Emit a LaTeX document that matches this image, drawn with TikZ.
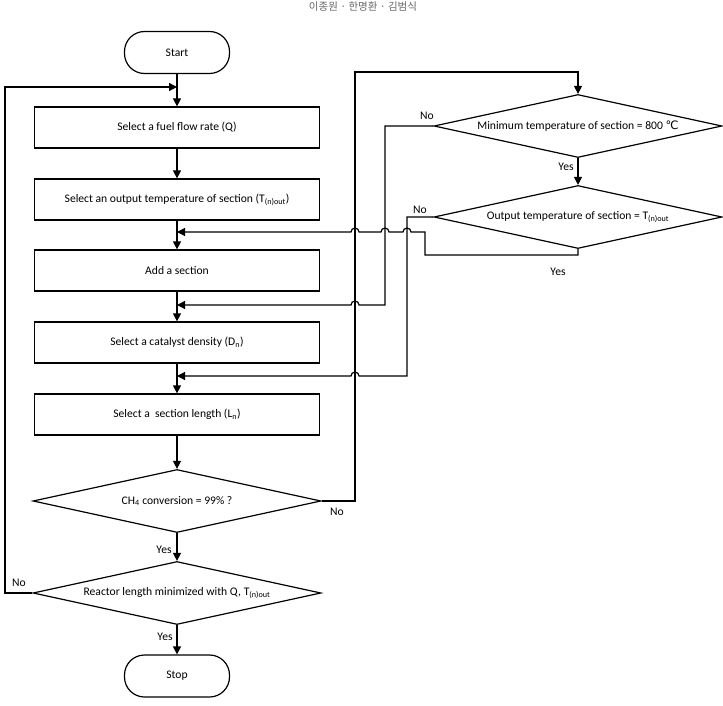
\documentclass[tikz,border=0pt]{standalone}
\usepackage{fontspec}
\setmainfont{Carlito}
\newfontfamily\krfont{Noto Sans CJK KR}
\newfontfamily\dvfont{DejaVu Sans}
\usetikzlibrary{shapes.geometric,arrows.meta}
\begin{document}
\begin{tikzpicture}[x=1pt,y=-1pt,
  line width=1.2pt,
  every node/.style={font=\fontsize{11.6}{13}\selectfont},
  box/.style={draw, rectangle, minimum width=285pt, minimum height=41pt, inner sep=0pt},
  term/.style={draw, rectangle, rounded corners=20pt, minimum width=105pt, minimum height=42pt, inner sep=0pt},
  dec/.style={draw, diamond, aspect=4.4, minimum width=288pt, minimum height=63pt, inner sep=0pt},
  arr/.style={-{Triangle[length=8pt,width=8pt]}},
  lab/.style={inner sep=0pt}
]
\useasboundingbox (0,0) rectangle (723,706);
\node[text=black!60, anchor=base, font=\fontsize{10.5}{12}\selectfont\krfont] (hdr) at (363,10.5) {이종원 · 한명환 · 김범식};

\node[term] (start) at (177,52.5) {Start};
\node[box] (b1) at (177,127.5) {Select a fuel flow rate (Q)};
\node[box] (b2) at (177,199.5) {Select an output temperature of section (T\textsubscript{(n)out})};
\node[box] (b3) at (177,270.5) {Add a section};
\node[box] (b4) at (177,342.5) {Select a catalyst density (D\textsubscript{n})};
\node[box] (b5) at (177,414.5) {Select a\ \ section length (L\textsubscript{n})};
\node[dec] (d1) at (177,501) {CH\textsubscript{4} conversion = 99\% ?};
\node[dec] (d2) at (177,593) {Reactor length minimized with Q, T\textsubscript{(n)out}};
\node[term] (stop) at (177,676) {Stop};
\node[dec] (d3) at (578,126) {Minimum temperature of section = 800 {\dvfont ℃}};
\node[dec] (d4) at (578,217) {Output temperature of section = T\textsubscript{(n)out}};

\coordinate (j0) at (177,87);
\coordinate (j1) at (177,232);
\coordinate (j2) at (177,305);
\coordinate (j3) at (177,376);
\coordinate (lft) at (5,0);
\coordinate (c1) at (355,72);

% main flow
\draw[arr] (start) -- (b1);
\draw[arr] (b1) -- (b2);
\draw[arr] (b2) -- (b3);
\draw[arr] (b3) -- (b4);
\draw[arr] (b4) -- (b5);
\draw[arr] (b5) -- (d1);
\draw[arr] (d1) -- (d2);
\draw[arr] (d2) -- (stop);
\draw[arr] (d3) -- (d4);

% loops
\draw[arr] (d2.west) -- (d2.west -| lft) |- (j0);
\draw[arr] (d1.east) -| (c1) -| (d3.north);
\draw[arr] (d3.west) -- (385,126) -- (385,305) -- (359,305) arc (0:-180:4) -- (j2);
\draw[arr] (d4.west) -- (407,217) -- (407,376) -- (359,376) arc (0:-180:4) -- (j3);
\draw[arr] (d4.south) -- (578,255) -- (425,255) -- (425,232) -- (411,232) arc (0:-180:4)
  -- (389,232) arc (0:-180:4) -- (359,232) arc (0:-180:4) -- (j1);

% labels
\node[lab] (l1) at (337,512) {No};
\node[lab] (l2) at (164,550) {Yes};
\node[lab] (l3) at (19,583) {No};
\node[lab] (l4) at (165,637) {Yes};
\node[lab] (l5) at (427,116) {No};
\node[lab] (l6) at (566,167) {Yes};
\node[lab] (l7) at (420,210) {No};
\node[lab] (l8) at (558,272) {Yes};
\end{tikzpicture}
\end{document}
